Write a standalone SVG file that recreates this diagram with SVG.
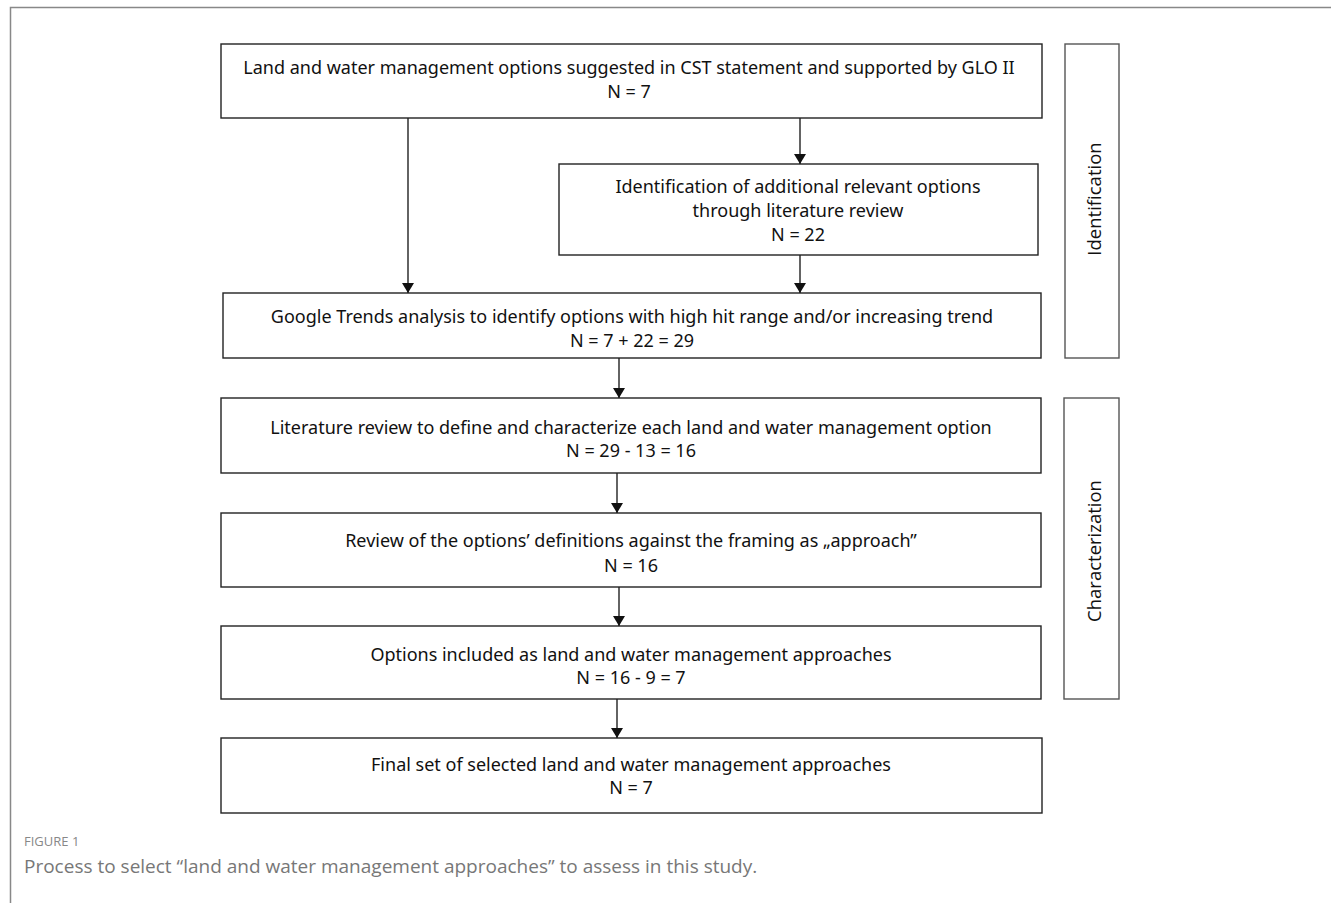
<svg xmlns="http://www.w3.org/2000/svg" width="1331" height="903" viewBox="0 0 1331 903">
<style>
.box{fill:#fff;stroke:#222;stroke-width:1.4}
.side{fill:#fff;stroke:#555;stroke-width:1.4}
.t{font-family:"Noto Sans","Open Sans",sans-serif;font-size:18px;fill:#111;text-anchor:middle}
.s{font-family:"Open Sans","Noto Sans",sans-serif;font-size:18.5px;fill:#111;text-anchor:middle}
.c line{stroke:#222;stroke-width:1.4;marker-end:url(#ah)}
</style>
<defs>
<marker id="ah" viewBox="0 0 10 12" refX="10" refY="6" markerWidth="10" markerHeight="12" markerUnits="userSpaceOnUse" orient="auto">
<path d="M0,0 L10,6 L0,12 Z" fill="#111"/>
</marker>
</defs>
<rect width="1331" height="903" fill="#fff"/>
<path d="M10.5,903 V7.5 H1331" fill="none" stroke="#888" stroke-width="1.5"/>
<g id="n1"><rect class="box" x="221" y="44" width="821" height="74"/>
<text class="t" x="629" y="74">Land and water management options suggested in CST statement and supported by GLO II</text>
<text class="t" x="629" y="98">N = 7</text></g>
<g id="n2"><rect class="box" x="559" y="164" width="479" height="91"/>
<text class="t" x="798" y="193">Identification of additional relevant options</text>
<text class="t" x="798" y="217">through literature review</text>
<text class="t" x="798" y="241">N = 22</text></g>
<g id="n3"><rect class="box" x="223" y="293" width="818" height="65"/>
<text class="t" x="632" y="323">Google Trends analysis to identify options with high hit range and/or increasing trend</text>
<text class="t" x="632" y="347">N = 7 + 22 = 29</text></g>
<g id="n4"><rect class="box" x="221" y="398" width="820" height="75"/>
<text class="t" x="631" y="434">Literature review to define and characterize each land and water management option</text>
<text class="t" x="631" y="457">N = 29 - 13 = 16</text></g>
<g id="n5"><rect class="box" x="221" y="513" width="820" height="74"/>
<text class="t" x="631" y="547">Review of the options’ definitions against the framing as „approach”</text>
<text class="t" x="631" y="572">N = 16</text></g>
<g id="n6"><rect class="box" x="221" y="626" width="820" height="73"/>
<text class="t" x="631" y="661">Options included as land and water management approaches</text>
<text class="t" x="631" y="684">N = 16 - 9  = 7</text></g>
<g id="n7"><rect class="box" x="221" y="738" width="821" height="75"/>
<text class="t" x="631" y="771">Final set of selected land and water management approaches</text>
<text class="t" x="631" y="794">N = 7</text></g>
<g id="identification"><rect class="side" x="1065" y="44" width="54" height="314"/>
<text class="s" transform="translate(1101,199) rotate(-90)">Identification</text></g>
<g id="characterization"><rect class="side" x="1064" y="398" width="55" height="301"/>
<text class="s" transform="translate(1101,551) rotate(-90)">Characterization</text></g>
<g id="connectors" class="c">
<line x1="408" y1="118" x2="408" y2="293"/>
<line x1="800" y1="118" x2="800" y2="164"/>
<line x1="800" y1="255" x2="800" y2="293"/>
<line x1="619" y1="358" x2="619" y2="398"/>
<line x1="617" y1="473" x2="617" y2="513"/>
<line x1="619" y1="587" x2="619" y2="626"/>
<line x1="617" y1="699" x2="617" y2="738"/>
</g>
<g id="caption">
<text x="24" y="846" font-family="'Open Sans','Noto Sans',sans-serif" font-size="13" fill="#888">FIGURE 1</text>
<text x="24" y="873" font-family="'Open Sans','Noto Sans',sans-serif" font-size="19" fill="#777">Process to select “land and water management approaches” to assess in this study.</text>
</g>
</svg>
